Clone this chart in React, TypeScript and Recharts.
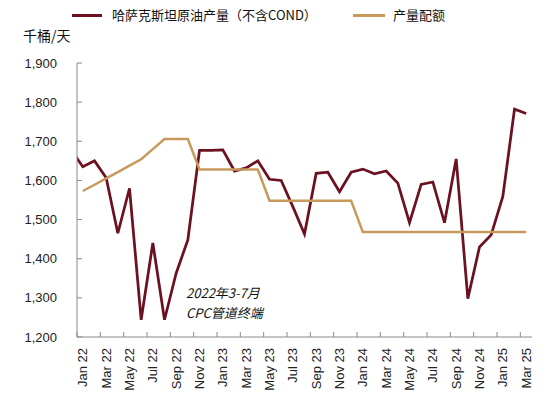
import React from 'react';
import { LineChart, Line, XAxis, YAxis } from 'recharts';

// monthly, Jan 2022 - Mar 2025
const months = [
  'Jan 22', 'Feb 22', 'Mar 22', 'Apr 22', 'May 22', 'Jun 22', 'Jul 22', 'Aug 22', 'Sep 22', 'Oct 22', 'Nov 22', 'Dec 22',
  'Jan 23', 'Feb 23', 'Mar 23', 'Apr 23', 'May 23', 'Jun 23', 'Jul 23', 'Aug 23', 'Sep 23', 'Oct 23', 'Nov 23', 'Dec 23',
  'Jan 24', 'Feb 24', 'Mar 24', 'Apr 24', 'May 24', 'Jun 24', 'Jul 24', 'Aug 24', 'Sep 24', 'Oct 24', 'Nov 24', 'Dec 24',
  'Jan 25', 'Feb 25', 'Mar 25',
];

// 哈萨克斯坦原油产量（不含COND）, kb/d
const production = [
  1635, 1650, 1607, 1465, 1580, 1244, 1440, 1244, 1363, 1448, 1677, 1677,
  1678, 1624, 1632, 1650, 1603, 1600, 1533, 1463, 1618, 1621, 1571, 1621,
  1629, 1617, 1624, 1593, 1492, 1590, 1596, 1492, 1655, 1298, 1430, 1461,
  1559, 1782, 1771,
];
// Dec 21 value, only its edge shows at the left of the plot
const prevProduction = 1678;

// 产量配额
const quota = [
  1573, 1589, 1605, 1621, 1638, 1654, 1680, 1706, 1706, 1706, 1628, 1628,
  1628, 1628, 1628, 1628, 1548, 1548, 1548, 1548, 1548, 1548, 1548, 1548,
  1468, 1468, 1468, 1468, 1468, 1468, 1468, 1468, 1468, 1468, 1468, 1468,
  1468, 1468, 1468,
];

const yTicks = [1200, 1300, 1400, 1500, 1600, 1700, 1800, 1900];

const W = 550;
const H = 397;
const MARGIN = { top: 63, right: 18, bottom: 0, left: 0 };
const Y_AXIS_W = 77;
const X_AXIS_H = 60;
const BAND = (W - Y_AXIS_W - MARGIN.left - MARGIN.right) / months.length;

const RED = '#6c1120';
const TAN = '#c79a5c';
const AXIS = '#8a8a8a';
const FONT = 'Arial, "Liberation Sans", sans-serif';
const CJK = '"Noto Sans CJK SC", sans-serif';

const data = [
  { idx: -1, production: prevProduction },
  ...months.map((m, i) => ({ idx: i, month: m, production: production[i], quota: quota[i] })),
];
const xTicks = months.map((_, i) => i).filter((i) => i % 2 === 0);

const X_MARGIN = 11;
const Y_MARGIN = 20;

const XTick = (props: any) => {
  const { x, y, payload } = props;
  const axisY = y - X_MARGIN;
  const lx = x - BAND / 2;
  return (
    <g>
      <line x1={lx} x2={lx} y1={axisY} y2={axisY - 5} stroke={AXIS} />
      <text
        x={x}
        y={y}
        transform={`rotate(-90, ${x}, ${y})`}
        textAnchor="end"
        dy="0.35em"
        fontSize={13}
        fontFamily={FONT}
        fill="#222"
      >
        {months[payload.value]}
      </text>
    </g>
  );
};

const YTick = (props: any) => {
  const { x, y, payload } = props;
  const ax = x + Y_MARGIN;
  return (
    <g>
      <line x1={ax} x2={ax + 5} y1={y} y2={y} stroke={AXIS} />
      <text x={x} y={y} dy="0.35em" textAnchor="end" fontSize={13} fontFamily={FONT} fill="#222">
        {payload.value.toLocaleString('en-US')}
      </text>
    </g>
  );
};

export default function App() {
  return (
    <div style={{ position: 'absolute', left: 0, top: 0, width: W, height: H, background: '#fff' }}>
      {/* legend */}
      <div style={{ position: 'absolute', left: 72, top: 15, width: 30, height: 3, marginTop: -1.5, background: RED }} />
      <div style={{ position: 'absolute', left: 112, top: 6, fontSize: 13, lineHeight: '18px', fontFamily: CJK, color: '#111', whiteSpace: 'nowrap' }}>
        哈萨克斯坦原油产量（不含COND）
      </div>
      <div style={{ position: 'absolute', left: 353, top: 15, width: 32, height: 3, marginTop: -1.5, background: TAN }} />
      <div style={{ position: 'absolute', left: 393, top: 6, fontSize: 13, lineHeight: '18px', fontFamily: CJK, color: '#111', whiteSpace: 'nowrap' }}>
        产量配额
      </div>
      <div style={{ position: 'absolute', left: 23, top: 26, fontSize: 14, lineHeight: '18px', fontFamily: CJK, color: '#111', whiteSpace: 'nowrap' }}>
        千桶/天
      </div>

      <LineChart width={W} height={H} data={data} margin={MARGIN}>
        <XAxis
          dataKey="idx"
          type="number"
          domain={[-0.5, months.length - 0.5]}
          allowDataOverflow
          ticks={xTicks}
          interval={0}
          height={X_AXIS_H}
          tickSize={0}
          tickMargin={X_MARGIN}
          tickLine={false}
          axisLine={{ stroke: AXIS }}
          tick={<XTick />}
        />
        <YAxis
          domain={[1200, 1900]}
          ticks={yTicks}
          interval={0}
          width={Y_AXIS_W}
          tickSize={0}
          tickMargin={Y_MARGIN}
          tickLine={false}
          axisLine={{ stroke: AXIS }}
          tick={<YTick />}
        />
        <Line
          type="linear"
          dataKey="production"
          stroke={RED}
          strokeWidth={2.75}
          dot={false}
          activeDot={false}
          isAnimationActive={false}
        />
        <Line
          type="linear"
          dataKey="quota"
          stroke={TAN}
          strokeWidth={2.5}
          dot={false}
          activeDot={false}
          isAnimationActive={false}
        />
      </LineChart>

      {/* annotation */}
      <div
        style={{
          position: 'absolute',
          left: 186,
          top: 283,
          fontSize: 13,
          lineHeight: '20px',
          fontStyle: 'italic',
          fontFamily: CJK,
          color: '#111',
          whiteSpace: 'nowrap',
        }}
      >
        <div>2022年3-7月</div>
        <div>CPC管道终端</div>
      </div>
    </div>
  );
}
